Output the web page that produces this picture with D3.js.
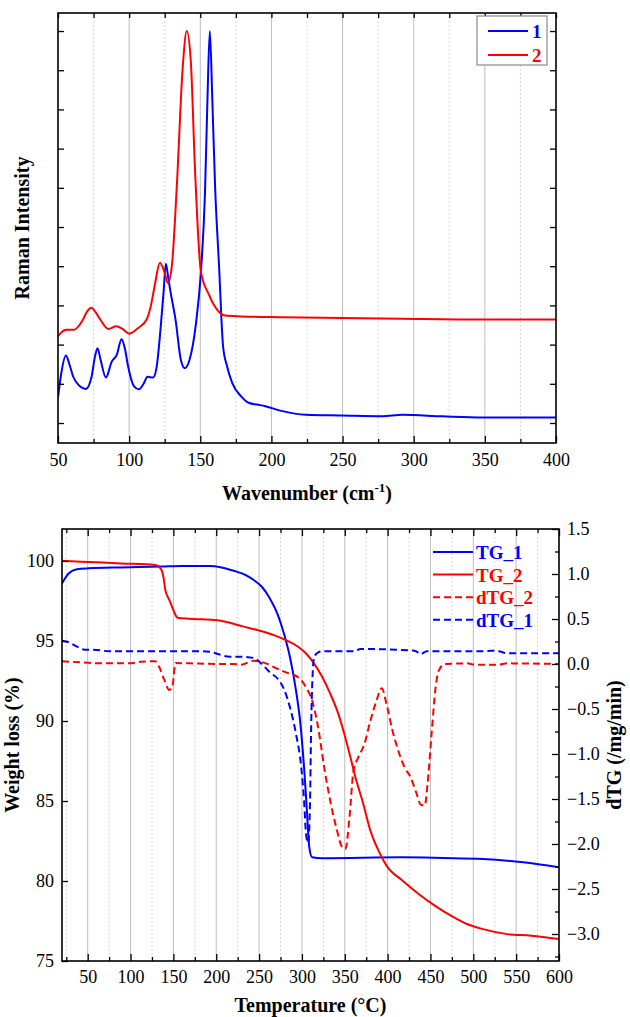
<!DOCTYPE html>
<html>
<head>
<meta charset="utf-8">
<script src="https://cdn.jsdelivr.net/npm/d3@7"></script>
<style>
body { margin: 0; background: #fff; }
svg { display: block; }
text { font-family: "Liberation Serif", "Times New Roman", serif; fill: #000; }
</style>
</head>
<body>
<svg id="fig" width="630" height="1017"></svg>
<script>
// Raman spectra, [wavenumber cm-1, intensity a.u.]
const raman1 = [
	[50, 0.64], [52, 1.2], [55.6, 1.72], [58, 1.5], [60.7, 1.18], [65.4, 0.94], [69.6, 0.87],
	[73.6, 1.18], [76, 1.7], [77.8, 1.91], [80, 1.6], [83.7, 1.16], [87.7, 1.56], [91.2, 1.73],
	[94.7, 2.14], [97, 1.9], [99.3, 1.44], [103.3, 0.94], [106.8, 0.86], [110.3, 1.01],
	[112.9, 1.18], [116.8, 1.16], [119.2, 1.40], [122, 2.37], [124.3, 3.39], [125.8, 4.06],
	[127.5, 3.7], [129.2, 3.32], [132.6, 2.64], [136.3, 1.62], [139.1, 1.40], [142.5, 1.62],
	[147, 2.55], [150.4, 3.83], [153.3, 5.87], [155, 8.2], [156.7, 10], [158.5, 8.2],
	[160.4, 6.04], [163.2, 4.0], [166, 1.96], [168.8, 1.45], [172.5, 1.02], [178.7, 0.68],
	[184.4, 0.51], [190, 0.47], [195.7, 0.43], [207, 0.31], [224, 0.21], [249.5, 0.19],
	[277.8, 0.17], [292, 0.21], [320, 0.17], [348.5, 0.14], [400, 0.14]
];
const raman2 = [
	[50, 2.21], [52, 2.3], [55.7, 2.38], [61.3, 2.38], [67, 2.60], [70.5, 2.85], [73.5, 2.94],
	[76.5, 2.82], [79.7, 2.64], [85.4, 2.40], [91, 2.47], [95.3, 2.40], [100, 2.28],
	[106.6, 2.43], [112.3, 2.64], [115, 2.95], [117.9, 3.49], [121.6, 4.09], [125, 3.83],
	[127.2, 3.57], [130, 4.0], [133.5, 6.04], [137.7, 9.1], [140.5, 10], [143.4, 9.19],
	[146.2, 6.55], [150.4, 3.87], [156, 3.28], [161.8, 2.89], [167.4, 2.74], [178.7, 2.72],
	[207, 2.70], [249.5, 2.68], [292, 2.66], [348.5, 2.64], [400, 2.64]
];
const ramanTicks = [50, 100, 150, 200, 250, 300, 350, 400];

// TG curves, [temperature C, weight %]
const tg1 = [
	[20, 98.6], [28, 99.23], [37.4, 99.48], [51.4, 99.54], [89, 99.60], [135.9, 99.65],
	[159.4, 99.69], [192.2, 99.69], [206.3, 99.6], [220.4, 99.39], [234.5, 99.12],
	[243.8, 98.81], [253.2, 98.39], [262.6, 97.66], [272, 96.62], [279, 95.47], [286, 94.0],
	[293.1, 91.9], [297.8, 90.04], [302.5, 87.1], [305.8, 84.4], [308.6, 82.1], [311.9, 81.48],
	[323.6, 81.42], [417.5, 81.48], [464.4, 81.44], [511.3, 81.38], [558.2, 81.17], [600, 80.86]
];
const tg2 = [
	[20, 100.02], [42, 99.96], [89, 99.85], [128.9, 99.75], [135, 99.54], [138.3, 99.02],
	[140.6, 98.18], [145.3, 97.56], [150, 96.93], [154.7, 96.45], [168.8, 96.39],
	[201.6, 96.30], [215.7, 96.14], [229.8, 95.93], [248.5, 95.68], [267.3, 95.37],
	[281.4, 95.05], [295.5, 94.64], [304.8, 94.22], [314.2, 93.59], [323.6, 92.76],
	[333, 91.71], [342.4, 90.46], [349.4, 89.2], [356.5, 87.75], [363.5, 86.28], [370.5, 85.03],
	[379.9, 83.15], [389.3, 81.9], [398.7, 80.96], [417.5, 80.02], [436.2, 79.19], [455, 78.46],
	[473.8, 77.83], [492.5, 77.31], [511.3, 76.99], [539.5, 76.68], [567.6, 76.58], [600, 76.37]
];
// derivative curves, [temperature C, dTG /mg/min]
const dtg1 = [
	[20, 0.259], [28, 0.241], [37.4, 0.193], [46.7, 0.159], [60.8, 0.156], [74.9, 0.141],
	[182.8, 0.141], [192.2, 0.137], [201.6, 0.111], [215.7, 0.081], [229.8, 0.081],
	[243.8, 0.067], [253.2, 0.0], [262.6, -0.093], [272, -0.167], [279, -0.278], [286, -0.481],
	[293.1, -0.778], [299.2, -1.148], [302.5, -1.519], [304.8, -1.889], [307.2, -1.99],
	[309.5, -1.52], [310.5, -0.85], [311.9, -0.26], [314.2, 0.074], [319, 0.13], [323.6, 0.141],
	[361.2, 0.141], [368.2, 0.167], [431.6, 0.148], [438.6, 0.111], [445.6, 0.141],
	[511.3, 0.141], [520.7, 0.148], [530, 0.141], [539.5, 0.119], [600, 0.119]
];
const dtg2 = [
	[20, 0.03], [42, 0.019], [65.5, 0.007], [98.4, 0.007], [112.4, 0.026], [128.9, 0.03],
	[133.6, -0.037], [139.7, -0.185], [145.3, -0.289], [149, -0.24], [152.3, 0.011],
	[168.8, 0.007], [206.3, 0], [220.4, 0], [229.8, -0.007], [243.8, 0.037], [257.9, 0.007],
	[272, -0.056], [281.4, -0.093], [295.5, -0.148], [304.8, -0.259], [311.9, -0.407],
	[318.9, -0.704], [326, -1.148], [333, -1.519], [340, -1.815], [347.1, -2.037],
	[350.8, -2.056], [355.5, -1.704], [360.2, -1.185], [365.8, -1.037], [372.9, -0.889],
	[379.9, -0.63], [387, -0.407], [393.1, -0.27], [398.7, -0.444], [405.7, -0.741],
	[413.7, -1.0], [419.8, -1.148], [426.8, -1.259], [433.9, -1.444], [438.6, -1.563],
	[443.3, -1.574], [446.6, -1.333], [451.3, -0.778], [456, -0.259], [459.7, -0.074],
	[466.7, 0], [492.5, 0.007], [501.9, -0.007], [530, -0.007], [539.5, 0.007], [600, 0]
];
const tempTicks = [50, 100, 150, 200, 250, 300, 350, 400, 450, 500, 550, 600];
const weightTicks = [75, 80, 85, 90, 95, 100];
const dtgTicks = [1.5, 1.0, 0.5, 0.0, -0.5, -1.0, -1.5, -2.0, -2.5, -3.0];

const BLUE = '#0000ff', RED = '#ff0000';
const FONT = '"Liberation Serif", "Times New Roman", serif';
const svg = d3.select('#fig');

// vertical grid: solid at majors, dotted at the halfway minors
function vgrid(g, x, majors, minors, y0, y1) {
	g.selectAll('line.gmaj').data(majors).join('line')
		.attr('x1', d => x(d)).attr('x2', d => x(d)).attr('y1', y0).attr('y2', y1)
		.attr('stroke', '#bdbdbd').attr('stroke-width', 1);
	g.selectAll('line.gmin').data(minors).join('line')
		.attr('x1', d => x(d)).attr('x2', d => x(d)).attr('y1', y0).attr('y2', y1)
		.attr('stroke', '#d9d9d9').attr('stroke-width', 1).attr('stroke-dasharray', '2,2');
}

function styleAxis(g) {
	g.attr('font-family', FONT).attr('font-size', 18);
	g.select('.domain').remove();
	g.selectAll('line').attr('stroke', '#000').attr('stroke-width', 1.3);
	g.selectAll('text').style('font-family', FONT).style('font-size', '18px');
}

function frame(g, box) {
	g.append('rect').attr('x', box.l).attr('y', box.t)
		.attr('width', box.r - box.l).attr('height', box.b - box.t)
		.attr('fill', 'none').attr('stroke', '#000').attr('stroke-width', 1.6);
}

function title(g, txt, tr) {
	return g.append('text').attr('transform', tr).attr('text-anchor', 'middle')
		.style('font-size', '20px').style('font-weight', 'bold').text(txt);
}

/* ---------- top: Raman ---------- */
{
	const box = {l: 58, r: 556, t: 13, b: 443};
	const x = d3.scaleLinear().domain([50, 400]).range([box.l, box.r]);
	const y = d3.scaleLinear().domain([-0.51, 10.46]).range([box.b, box.t]);
	const g = svg.append('g');

	vgrid(g.append('g'), x, d3.range(100, 400, 50), d3.range(75, 400, 50), box.t, box.b);

	g.append('clipPath').attr('id', 'clipR').append('rect')
		.attr('x', box.l).attr('y', box.t).attr('width', box.r - box.l).attr('height', box.b - box.t);

	const line = d3.line().x(d => x(d[0])).y(d => y(d[1])).curve(d3.curveMonotoneX);
	g.append('path').datum(raman1).attr('d', line).attr('clip-path', 'url(#clipR)')
		.attr('fill', 'none').attr('stroke', BLUE).attr('stroke-width', 2);
	g.append('path').datum(raman2).attr('d', line).attr('clip-path', 'url(#clipR)')
		.attr('fill', 'none').attr('stroke', RED).attr('stroke-width', 2);

	const yt = d3.range(0, 10.01, 1);
	g.append('g').attr('transform', `translate(0,${box.b})`)
		.call(d3.axisBottom(x).tickValues(ramanTicks).tickSize(-7).tickPadding(10).tickFormat(d3.format('d')))
		.call(styleAxis);
	g.append('g').attr('transform', `translate(0,${box.b})`)
		.call(d3.axisBottom(x).tickValues(d3.range(75, 400, 50)).tickSize(-4).tickFormat(''))
		.call(styleAxis);
	g.append('g').attr('transform', `translate(0,${box.t})`)
		.call(d3.axisTop(x).tickValues(d3.range(50, 401, 25)).tickSize(-5).tickFormat(''))
		.call(styleAxis);
	g.append('g').attr('transform', `translate(${box.l},0)`)
		.call(d3.axisLeft(y).tickValues(yt).tickSize(-6).tickFormat(''))
		.call(styleAxis);
	g.append('g').attr('transform', `translate(${box.r},0)`)
		.call(d3.axisRight(y).tickValues(yt).tickSize(-6).tickFormat(''))
		.call(styleAxis);
	frame(g, box);

	// legend
	const lg = g.append('g');
	lg.append('rect').attr('x', 477).attr('y', 16).attr('width', 70).attr('height', 49)
		.attr('fill', '#fff').attr('stroke', '#8a8a8a').attr('stroke-width', 1.2);
	[['1', BLUE, 31], ['2', RED, 55]].forEach(([t, c, yy]) => {
		lg.append('line').attr('x1', 488).attr('x2', 528).attr('y1', yy).attr('y2', yy)
			.attr('stroke', c).attr('stroke-width', 2);
		lg.append('text').attr('x', 532).attr('y', yy + 7).text(t)
			.style('font-size', '19px').style('font-weight', 'bold').style('fill', c);
	});

	const xl = g.append('text').attr('x', (box.l + box.r) / 2).attr('y', 500)
		.attr('text-anchor', 'middle').style('font-size', '20px').style('font-weight', 'bold');
	xl.append('tspan').text('Wavenumber (cm');
	xl.append('tspan').text('-1').attr('dy', -8).style('font-size', '13px');
	xl.append('tspan').text(')').attr('dy', 8);

	title(g, 'Raman Intensity', `translate(29,${(box.t + box.b) / 2}) rotate(-90)`);
}

/* ---------- bottom: TG / dTG ---------- */
{
	const box = {l: 62, r: 559, t: 529, b: 961};
	const x = d3.scaleLinear().domain([20, 600]).range([box.l, box.r]);
	const yW = d3.scaleLinear().domain([75, 102]).range([box.b, box.t]);
	const yD = d3.scaleLinear().domain([-3.3, 1.5]).range([box.b, box.t]);
	const g = svg.append('g');

	vgrid(g.append('g'), x, d3.range(50, 600, 50), d3.range(25, 600, 50), box.t, box.b);

	g.append('clipPath').attr('id', 'clipT').append('rect')
		.attr('x', box.l).attr('y', box.t).attr('width', box.r - box.l).attr('height', box.b - box.t);

	const lineW = d3.line().x(d => x(d[0])).y(d => yW(d[1])).curve(d3.curveMonotoneX);
	const lineD = d3.line().x(d => x(d[0])).y(d => yD(d[1])).curve(d3.curveMonotoneX);
	const series = [
		{name: 'TG_1', data: tg1, line: lineW, color: BLUE, dash: null},
		{name: 'TG_2', data: tg2, line: lineW, color: RED, dash: null},
		{name: 'dTG_2', data: dtg2, line: lineD, color: RED, dash: '7,4'},
		{name: 'dTG_1', data: dtg1, line: lineD, color: BLUE, dash: '7,4'}
	];
	series.forEach(s => {
		g.append('path').datum(s.data).attr('d', s.line).attr('clip-path', 'url(#clipT)')
			.attr('fill', 'none').attr('stroke', s.color).attr('stroke-width', 2)
			.attr('stroke-dasharray', s.dash);
	});

	g.append('g').attr('transform', `translate(0,${box.b})`)
		.call(d3.axisBottom(x).tickValues(tempTicks).tickSize(-7).tickPadding(9).tickFormat(d3.format('d')))
		.call(styleAxis);
	g.append('g').attr('transform', `translate(0,${box.b})`)
		.call(d3.axisBottom(x).tickValues(d3.range(25, 600, 50)).tickSize(-4).tickFormat(''))
		.call(styleAxis);
	g.append('g').attr('transform', `translate(0,${box.t})`)
		.call(d3.axisTop(x).tickValues(tempTicks).tickSize(-7).tickFormat(''))
		.call(styleAxis);
	g.append('g').attr('transform', `translate(0,${box.t})`)
		.call(d3.axisTop(x).tickValues(d3.range(25, 600, 50)).tickSize(-4).tickFormat(''))
		.call(styleAxis);
	g.append('g').attr('transform', `translate(${box.l},0)`)
		.call(d3.axisLeft(yW).tickValues(weightTicks).tickSize(-6).tickPadding(8).tickFormat(d3.format('d')))
		.call(styleAxis);
	g.append('g').attr('transform', `translate(${box.r},0)`)
		.call(d3.axisRight(yD).tickValues(dtgTicks).tickSize(-7).tickPadding(8).tickFormat(d3.format('.1f')))
		.call(styleAxis);
	g.append('g').attr('transform', `translate(${box.r},0)`)
		.call(d3.axisRight(yD).tickValues(d3.range(-3.25, 1.5, 0.5)).tickSize(-4).tickFormat(''))
		.call(styleAxis);
	frame(g, box);

	// legend, no box
	const lg = g.append('g');
	series.forEach((s, i) => {
		const yy = 552 + i * 22.6;
		lg.append('line').attr('x1', 433).attr('x2', 473).attr('y1', yy).attr('y2', yy)
			.attr('stroke', s.color).attr('stroke-width', 2).attr('stroke-dasharray', s.dash);
		lg.append('text').attr('x', 476).attr('y', yy + 7).text(s.name)
			.style('font-size', '19px').style('font-weight', 'bold').style('fill', s.color);
	});

	g.append('text').attr('x', (box.l + box.r) / 2).attr('y', 1012)
		.attr('text-anchor', 'middle').style('font-size', '20px').style('font-weight', 'bold')
		.text('Temperature (\u00B0C)');
	title(g, 'Weight loss (%)', `translate(19,${(box.t + box.b) / 2}) rotate(-90)`);
	title(g, 'dTG (/mg/min)', `translate(621,${(box.t + box.b) / 2}) rotate(-90)`);
}
</script>
</body>
</html>
